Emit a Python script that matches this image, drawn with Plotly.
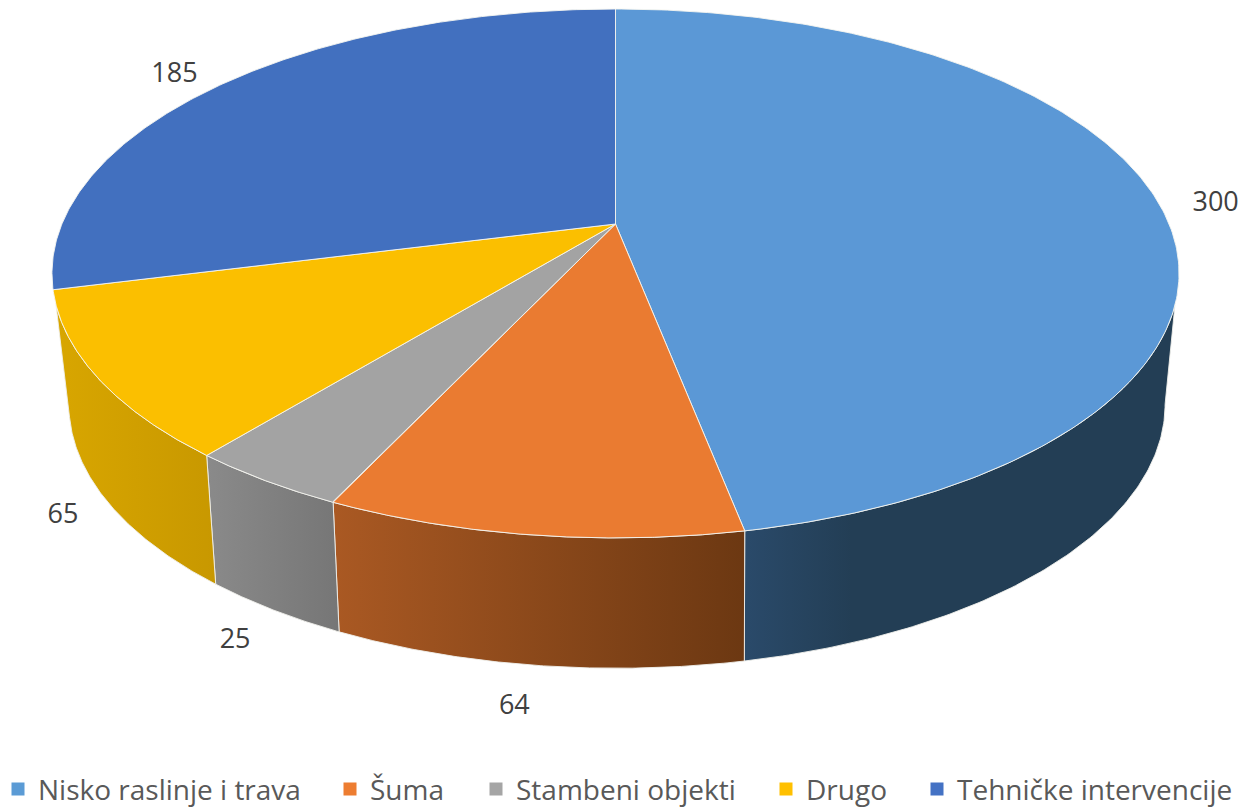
import numpy as np
import plotly.graph_objects as go

categories = ["Nisko raslinje i trava", "Šuma", "Stambeni objekti", "Drugo", "Tehničke intervencije"]
values = [300, 64, 25, 65, 185]
top_colors = ["#5B9BD5", "#ED7D31", "#A5A5A5", "#FFC000", "#4472C4"]
top_fill = ["#5B98D6", "#EA7B31", "#A3A3A3", "#FBBF00", "#4270BF"]
side_left = ["#2A4A6A", "#AA5923", "#8A8A8A", "#D8A600", None]
side_right = ["#233E55", "#6C3812", "#767676", "#C89800", None]
side_stop = [0.25, 1, 1, 1, 1]
label_radius = [1.105, 1.10, 1.10, 1.09, 1.13]
label_on_base = [False, True, True, True, False]
label_shift_x = [3, -10, 4, 5, -4]
label_shift_y = [7, 2, 0, -4, 8]
legend_left = [12, 344, 490, 780, 931]
FONT = "Open Sans"


def top_plane(theta, r=1.0):
    X, Y = r * np.sin(theta), -r * np.cos(theta)
    d = 1 - 0.187 * Y
    return 615.5 + 553.6 * X / d, 224 + 255.2 * Y / d


def base_plane(theta, r=1.0):
    X, Y = r * np.sin(theta), -r * np.cos(theta)
    d = 1 - 0.2 * Y
    return 617 + 537 * X / d, 352 + 253 * Y / d


edges = np.radians(np.cumsum([0] + values) / sum(values) * 360)
mids = (edges[:-1] + edges[1:]) / 2
SIDE_TOP = (np.radians(107.5), np.radians(252.5))
SIDE_BASE = (np.radians(101.5), np.radians(258.5))

fig = go.Figure()

# side walls
for i, (a, b) in enumerate(zip(edges[:-1], edges[1:])):
    if side_left[i] is None:
        continue
    t0, t1 = max(a, SIDE_TOP[0]), min(b, SIDE_TOP[1])
    s0, s1 = max(a, SIDE_BASE[0]), min(b, SIDE_BASE[1])
    tx, ty = top_plane(np.linspace(t0, t1, 120))
    bx, by = base_plane(np.linspace(s1, s0, 120))
    scale = [[0, side_left[i]], [side_stop[i], side_right[i]]]
    if side_stop[i] < 1:
        scale.append([1, side_right[i]])
    fig.add_trace(go.Scatter(
        x=np.r_[tx, bx, tx[:1]], y=np.r_[ty, by, ty[:1]], mode="lines", fill="toself",
        line=dict(color="rgba(240,240,235,0.9)", width=1),
        fillgradient=dict(type="horizontal", colorscale=scale),
        showlegend=False, hoverinfo="skip"))

# top face
for i, (a, b) in enumerate(zip(edges[:-1], edges[1:])):
    x, y = top_plane(np.linspace(a, b, 240))
    fig.add_trace(go.Scatter(
        x=np.r_[615.5, x, 615.5], y=np.r_[224, y, 224], mode="lines", fill="toself",
        fillcolor=top_fill[i], line=dict(color="rgba(245,245,240,0.9)", width=1),
        showlegend=False, hoverinfo="skip"))

# value labels
lx, ly = [], []
for m, r, on_base, dx, dy in zip(mids, label_radius, label_on_base, label_shift_x, label_shift_y):
    px, py = (base_plane if on_base else top_plane)(m, r)
    lx.append(px + dx)
    ly.append(py + dy)
fig.add_trace(go.Scatter(x=lx, y=ly, mode="text", text=[str(v) for v in values],
                         textposition="middle center", cliponaxis=False,
                         textfont=dict(family=FONT, size=27, color="#404040"),
                         showlegend=False, hoverinfo="skip"))

# legend entries, one legend per entry so each can sit where the reference has it
legends = {}
for i, (name, col, left) in enumerate(zip(categories, top_colors, legend_left)):
    key = "legend" if i == 0 else f"legend{i + 1}"
    fig.add_trace(go.Scatter(x=[None], y=[None], mode="markers", name=name, legend=key,
                             showlegend=True,
                             marker=dict(symbol="square", size=13, color=col)))
    legends[key] = dict(orientation="h", x=(left - 14) / 1244, xanchor="left",
                        y=-0.009, yanchor="bottom",
                        font=dict(family=FONT, size=28, color="#595959"),
                        itemwidth=30, bgcolor="rgba(0,0,0,0)")

fig.update_layout(
    width=1244, height=807, margin=dict(l=0, r=0, t=0, b=0, autoexpand=False),
    paper_bgcolor="white", plot_bgcolor="white",
    xaxis=dict(range=[0, 1244], visible=False, fixedrange=True),
    yaxis=dict(range=[807, 0], visible=False, fixedrange=True),
    **legends,
)
fig.write_html("out.html", config=dict(displayModeBar=False),
               post_script="document.body.style.margin='0';document.body.style.overflow='hidden';")
